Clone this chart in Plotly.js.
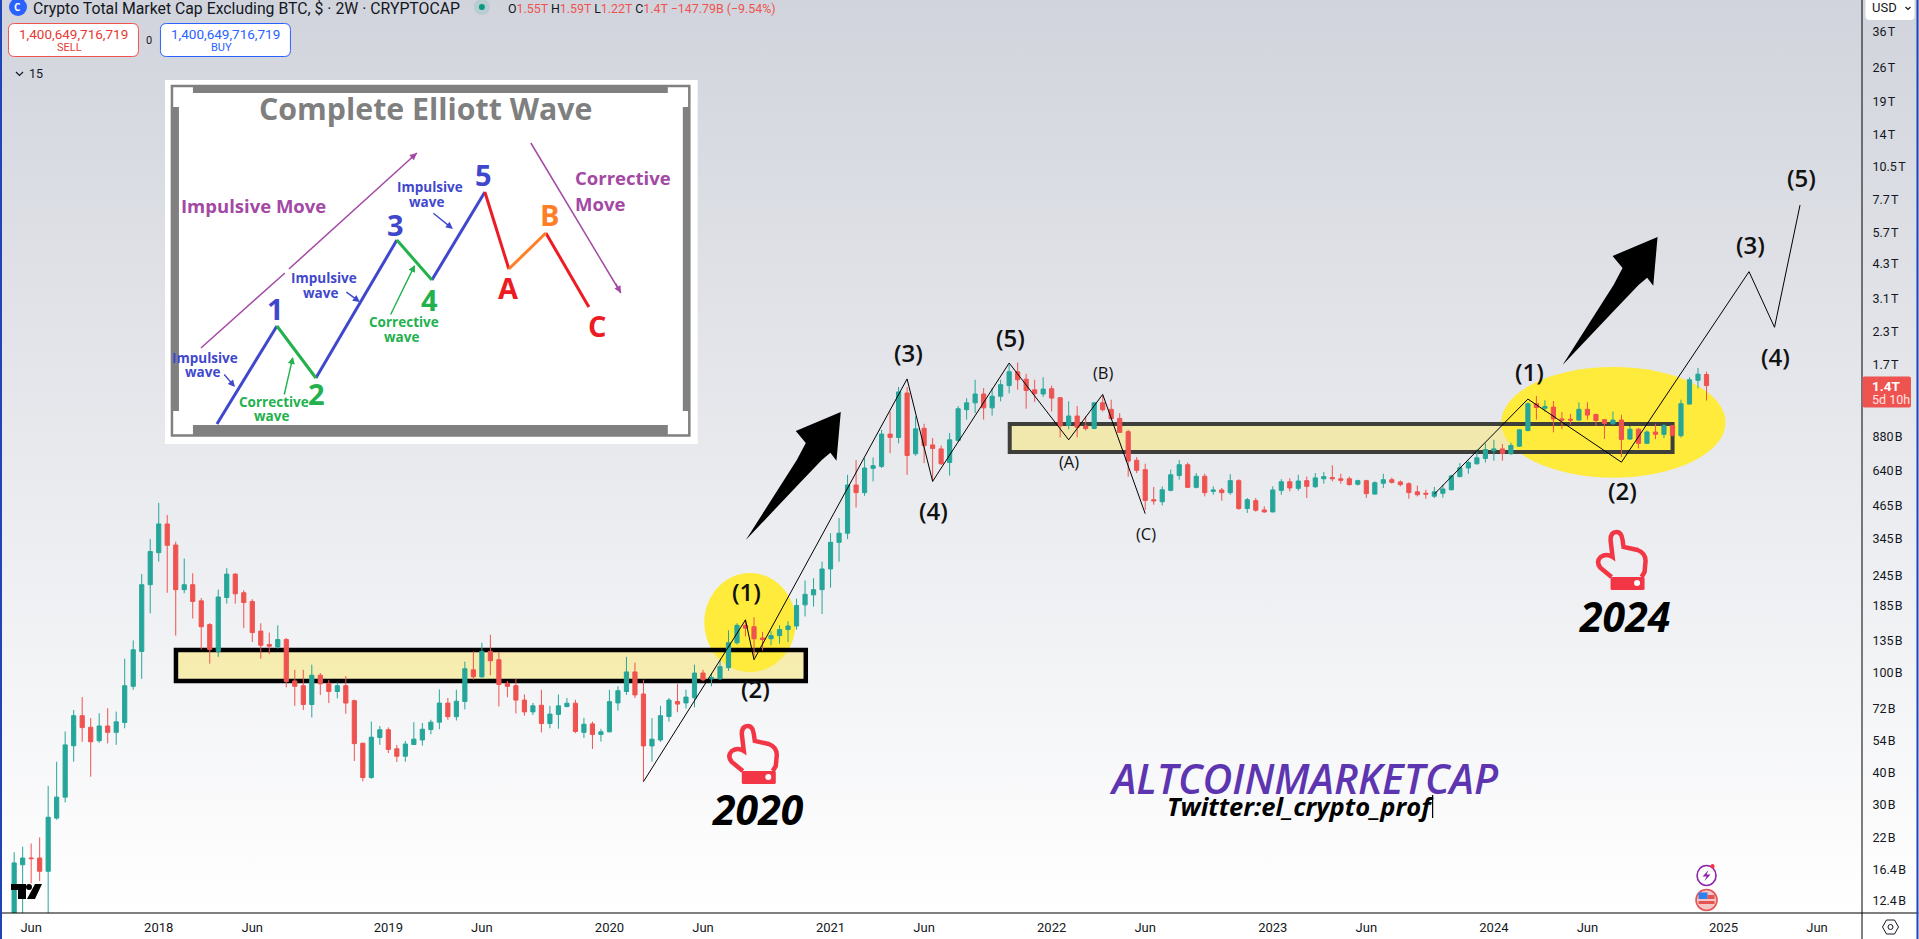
<!DOCTYPE html>
<html><head><meta charset="utf-8">
<script src="https://cdn.plot.ly/plotly-3.0.1.min.js"></script>
<style>html,body{margin:0;padding:0;width:1919px;height:939px;overflow:hidden;background:linear-gradient(#d1d4dc 0,#ffffff 913px)}#c{width:1919px;height:939px}</style>
</head><body><div id="c"></div>
<script>
// ---------- chart data (values in billions of USD) ----------
const firstBar = '2017-05-08', barDays = 14;
const open_ = [9.74,17.2,18.3,18.3,16.2,26.4,32.0,51.3,67.6,60.8,53.7,61.5,58.0,63.5,88.5,122,225,302,393,324,215,225,194,156,122,200,248,209,193,147,130,127,136,93,89,74.9,98,91,84.4,89,77.6,52.5,38.3,55.3,59.4,49.9,46.6,51.9,54.1,59.5,63.7,75.9,67,77,103,96.5,122,113,91,89,78,70,74.4,62.9,68.4,73.5,75.8,58,62.7,56.9,58.3,76,84.4,101,82.5,51.2,54.1,67.1,77,76,79.7,100,94.8,94.8,105,132,155,153,138,137,141,149,154,187,205,215,260,332,361,562,524,655,667,897,870,1308,749,946,812,783,691,846,1122,1195,1296,1141,1270,1400,1590,1485,1347,1296,1360,1252,973,1059,966,944,1195,1126,1036,917,705,647,491,482,535,613,677,550,609,530,537,524,585,453,487,447,439,535,579,545,585,553,595,602,595,595,566,585,517,571,590,578,569,528,521,507,521,538,607,657,683,717,770,783,749,803,927,1185,1137,1149,1031,1028,1020,1126,1074,1024,986,1020,857,938,824,914,895,969,884,1182,1470,1550];
const high_ = [19.3,20.3,20.9,22.1,35.5,44.3,58.5,71.2,80.2,66.1,69.2,72.4,70.2,114,135,248,342,477,427,334,286,250,199,158,215,262,250,214,197,158,145,155,138,103,103,108,100,93.9,91.7,97.2,78.3,52.7,64,61.5,60.7,51.7,53.6,63.7,63.2,65.1,86,79.5,85.8,111,122,132,142,121,93,95,82.2,76,85.7,74,82.2,79.5,78.3,66.3,64,59.9,85.7,88.5,116,110,94,66.1,74,79.5,90.6,85.8,108,103,100,113,148,158,163,167,146,147,155,161,198,234,239,278,361,415,617,707,719,723,933,1103,1382,1382,1055,986,865,807,906,1160,1248,1477,1369,1369,1477,1696,1731,1560,1477,1511,1399,1261,1211,1160,1055,1205,1282,1230,1087,933,726,683,552,555,647,707,691,627,623,555,547,621,593,499,499,462,555,593,598,617,607,627,633,673,623,607,590,590,581,623,602,586,576,559,538,552,564,617,687,703,779,824,851,819,829,938,1200,1274,1223,1215,1097,1081,1200,1200,1081,1028,1103,1071,966,949,927,986,986,976,1230,1511,1645,1590];
const low_ = [8.4,10.3,14.5,14.8,9.74,26.0,30.5,44.3,53.2,38.6,52.7,52.4,51.7,60.2,85.8,94.8,173,278,209,141,208,165,124,109,116,189,189,151,133,114,119,125,87.7,74,71.2,66.5,81.8,75.9,79.2,68.8,44.6,37,37.9,51.7,48,44.2,44.3,51.7,51.3,57,59.7,65.1,64.7,71.6,94,96,98,73.6,80,69,67.6,68,58,60.2,60,73,57.6,55,49.8,53.3,58,70.8,81.8,79.5,36.9,44.3,53.2,64,69.8,72.2,73,92.6,88.5,94,102,130,140,116,123,129,131,133,149,168,184,172,219,278,342,457,509,581,657,753,824,617,735,687,581,675,613,838,1024,1087,1024,1062,1211,1304,1347,1132,1205,1261,1103,870,938,870,927,938,1103,1024,906,607,627,447,469,466,530,590,547,545,506,514,487,514,447,435,440,435,437,514,530,533,499,547,569,581,569,559,559,499,514,547,569,555,495,506,495,499,500,535,604,623,677,691,703,703,742,797,919,1024,1103,911,938,976,1015,1024,966,857,976,726,851,786,819,857,865,878,869,1175,1365,1220];
const close_ = [17.5,18.3,18.2,16.2,26.6,32.0,51.7,67.6,60.6,53.2,61.5,58.0,63.9,89.0,123.8,225,305,393,323,215,225,193,153,124,201,248,207,191,145,129,128,136,92.6,88.5,74.9,98,90.6,84.4,89,75.9,52.3,38.3,55.5,59.4,49.6,46.6,52.1,54.5,59.7,63.7,75.9,67,77.2,104,96.7,122,112,90,88.5,78,70,74,62.9,68.6,74,75.8,58.5,62.5,56.9,58.3,76.9,85,101,81.8,51.2,54.5,67.6,78,75.2,80.2,100,94,96,106,132,155,151,137,136,141,149,154,186,206,215,260,332,361,562,524,657,671,897,870,1321,737,941,807,786,683,851,1132,1195,1296,1141,1270,1412,1590,1477,1339,1300,1356,1248,966,1059,955,944,1195,1122,1033,911,700,643,488,486,538,617,677,550,609,524,537,524,585,453,491,446,439,537,579,547,583,555,600,607,595,587,564,585,519,574,590,576,564,524,514,517,528,542,611,659,691,721,778,783,751,808,933,1185,1145,1156,1031,1020,1020,1126,1068,1017,989,1020,854,938,824,914,895,969,887,1185,1477,1555,1400];

const xTickDates = ['2017-06-05','2018-01-01','2018-06-04','2019-01-14','2019-06-17','2020-01-13','2020-06-15','2021-01-11','2021-06-14','2022-01-10','2022-06-13','2023-01-09','2023-06-12','2024-01-08','2024-06-10','2025-01-20','2025-06-23'];
const xTickLabels = ['Jun','2018','Jun','2019','Jun','2020','Jun','2021','Jun','2022','Jun','2023','Jun','2024','Jun','2025','Jun'];
const yTickValues = [36000,26000,19000,14000,10500,7700,5700,4300,3100,2300,1700,880,640,465,345,245,185,135,100,72,54,40,30,22,16.4,12.4];
const yTickLabels = ['36\u200aT','26\u200aT','19\u200aT','14\u200aT','10.5\u200aT','7.7\u200aT','5.7\u200aT','4.3\u200aT','3.1\u200aT','2.3\u200aT','1.7\u200aT','880\u200aB','640\u200aB','465\u200aB','345\u200aB','245\u200aB','185\u200aB','135\u200aB','100\u200aB','72\u200aB','54\u200aB','40\u200aB','30\u200aB','22\u200aB','16.4\u200aB','12.4\u200aB'];

// Elliott wave counts drawn on the chart
const waveADates = ['2020-03-09','2020-08-24','2020-09-07','2021-05-17','2021-06-28','2021-11-01','2022-02-07','2022-04-04','2022-06-13'];
const waveAValues = [36.9,163,113,1488,581,1722,851,1291,432];
const waveBDates = ['2023-10-02','2024-03-04','2024-08-05','2025-03-03','2025-04-14','2025-05-26'];
const waveBValues = [517,1237,693,3985,2391,7347];

// Inset diagram: Complete Elliott Wave (schematic units)
const insetImpX = [[217,277],[316,397],[432,485]], insetImpY = [[424,326],[378,240],[280,192]];
const insetCorX = [[277,316],[397,432]], insetCorY = [[326,378],[240,280]];
const insetRedX = [[485,509],[546,589]], insetRedY = [[192,269],[233,307]];
const insetOrangeX = [509,546], insetOrangeY = [269,233];
const insetTrendX = [201,285,null,289,417,null,531,621], insetTrendY = [348,273,null,269,153,null,143,293];

// ---------- helpers ----------
const W = 1919, H = 939, L = 2, PW = 1860.5, PH = 913;
const px = x => (x - L) / PW, py = y => 1 - y / PH;
const barDates = open_.map((_, i) => {
  const d = new Date(firstBar + 'T00:00:00Z'); d.setUTCDate(d.getUTCDate() + i * barDays);
  return d.toISOString().slice(0, 10);
});
const path = pts => pts.map((p, i) => (i ? 'L' : 'M') + px(p[0]) + ' ' + py(p[1])).join(' ') + ' Z';
const shapes = [], annotations = [];
function txt(x, y, text, size, color, o) {
  annotations.push(Object.assign({xref:'paper', yref:'paper', x:px(x), y:py(y), text, showarrow:false,
    xanchor:'center', yanchor:'middle', font:{family:'"Open Sans"', size, color}}, o || {}));
}
function itxt(x, y, text, size, color, o) {
  annotations.push(Object.assign({xref:'x2', yref:'y2', x, y, text, showarrow:false, xanchor:'center', yanchor:'middle',
    font:{family:'"Open Sans"', size, color, weight:700}}, o || {}));
}
function rectP(x0, y0, x1, y1, fill, line, lw, layer, extra) {
  shapes.push(Object.assign({type:'rect', xref:'paper', yref:'paper', x0:px(x0), x1:px(x1), y0:py(y0), y1:py(y1),
    fillcolor:fill, line:{color:line || 'rgba(0,0,0,0)', width:lw || 0}, layer:layer || 'above'}, extra || {}));
}
function ellipse(x0, y0, x1, y1, fill, line, lw, layer) {
  shapes.push({type:'circle', xref:'paper', yref:'paper', x0:px(x0), x1:px(x1), y0:py(y0), y1:py(y1),
    fillcolor:fill, line:{color:line || 'rgba(0,0,0,0)', width:lw || 0}, layer:layer || 'above'});
}
function poly(pts, fill, line, lw, layer) {
  shapes.push({type:'path', xref:'paper', yref:'paper', path:path(pts), fillcolor:fill,
    line:{color:line || 'rgba(0,0,0,0)', width:lw || 0}, layer:layer || 'above'});
}
function roundBox(x0, y0, x1, y1, r, fill, line, lw) {
  const c = (x, y) => px(x) + ' ' + py(y);
  shapes.push({type:'path', xref:'paper', yref:'paper', fillcolor:fill, line:{color:line, width:lw}, layer:'above',
    path:`M${c(x0+r,y0)} L${c(x1-r,y0)} Q${c(x1,y0)} ${c(x1,y0+r)} L${c(x1,y1-r)} Q${c(x1,y1)} ${c(x1-r,y1)} L${c(x0+r,y1)} Q${c(x0,y1)} ${c(x0,y1-r)} L${c(x0,y0+r)} Q${c(x0,y0)} ${c(x0+r,y0)} Z`});
}

// ---------- zones below the candles ----------
rectP(176,650,806,681,'rgba(248,232,130,0.6)',null,0,'below');
rectP(1010,424,1673,452,'rgba(248,232,130,0.6)',null,0,'below');
ellipse(704.5,573,796,672,'#ffeb3b',null,0,'below');
ellipse(1501.7,367,1726,477.7,'#ffeb3b',null,0,'below');
rectP(176,650,806,681,'rgba(0,0,0,0)','#000000',4.5,'below');
rectP(1010,424,1673,452,'rgba(0,0,0,0)','#3e3e3a',4,'below');

// ---------- big arrows ----------
function bigArrow(dx, dy) {
  poly([[746,540],[797,460],[806,443],[796,431],[841,412],[836.7,460.7],[830.6,452.7],[822,460],[800,483]]
    .map(p => [p[0]+dx, p[1]+dy]), '#000000');
}
bigArrow(0,0); bigArrow(817,-175);

// ---------- hands ----------
function hand(ox, oy) {
  const c = (x, y) => px(ox+x) + ' ' + py(oy+y);
  shapes.push({type:'path', xref:'paper', yref:'paper', layer:'above', fillcolor:'rgba(0,0,0,0)', line:{color:'#f23645', width:4.5},
    path:`M${c(16,47)} L${c(5,38)} Q${c(0,32)} ${c(5,27)} Q${c(11,23)} ${c(17,27)} L${c(15,10)} Q${c(15,2)} ${c(21,2)} Q${c(26,2)} ${c(27,10)} L${c(28,17)} L${c(42,20)} Q${c(50,23)} ${c(50,31)} L${c(49,42)} L${c(46,47)}`});
  roundBox(ox+15, oy+47, ox+49, oy+60, 1.5, '#f23645', '#f23645', 0);
  ellipse(ox+38.5, oy+50, ox+44.5, oy+56, '#ffffff');
}
hand(727,724); hand(1596,530);

// ---------- wave labels ----------
[[747,591.7,'(1)',24,600],[755.5,688,'(2)',24,600],[908.6,352.7,'(3)',24,600],[934,510.7,'(4)',24,600],[1010.6,337.7,'(5)',24,600],
 [1069.4,462,'(A)',16.5,400],[1103.7,373,'(B)',16.5,400],[1146.5,533,'(C)',16.5,400],
 [1529.7,371,'(1)',24,600],[1622.7,491,'(2)',24,600],[1750.7,244.3,'(3)',24,600],[1776,356.7,'(4)',24,600],[1801.7,177.3,'(5)',24,600]]
 .forEach(a => txt(a[0],a[1],a[2],a[3],'#111111',{font:{family:'"Open Sans"',size:a[3],color:'#111111',weight:a[4]}}));
txt(758.5,809,'2020',41,'#000',{font:{family:'"Noto Sans"',size:41,color:'#000',weight:700,style:'italic'}});
txt(1625.5,616,'2024',41,'#000',{font:{family:'"Noto Sans"',size:41,color:'#000',weight:700,style:'italic'}});
txt(1304.5,778,'ALTCOINMARKETCAP',41,'#5e35b1',{font:{family:'"Open Sans"',size:41,color:'#5e35b1',weight:600,style:'italic'}});
txt(1301,806,'Twitter:el_crypto_prof',25.5,'#000',{font:{family:'"Open Sans"',size:25.5,color:'#000',weight:700,style:'italic'}});
shapes.push({type:'line',xref:'paper',yref:'paper',x0:px(1433),x1:px(1433),y0:py(795),y1:py(818),line:{color:'#000',width:1.2},layer:'above'});

// ---------- header ----------
ellipse(9,-2,27,16,'#2962ff');
txt(18,7,'<b>C</b>',10,'#fff');
txt(31,8,'Crypto Total Market Cap Excluding BTC, $ · 2W · CRYPTOCAP',15.8,'#131722',{xanchor:'left',font:{family:'Roboto',size:15.8,color:'#131722'}});
ellipse(474,-1,490,15,'rgba(38,166,154,0.15)');
ellipse(479,4,485,10,'#089981');
const R = s => `<span style="color:#ef5350">${s}</span>`;
txt(506,8,'O'+R('1.55T')+' H'+R('1.59T')+' L'+R('1.22T')+' C'+R('1.4T')+' '+R('−147.79B (−9.54%)'),12.4,'#131722',{xanchor:'left',font:{family:'Roboto',size:12.4,color:'#131722'}});
roundBox(8.5,23.5,138.5,56.5,6,'#ffffff','#ef5350',1);
roundBox(160.5,23.5,290.5,56.5,6,'#ffffff','#2962ff',1);
txt(73.5,33.5,'1,400,649,716,719',13.5,'#ef5350',{font:{family:'Roboto',size:13.5,color:'#e53935'}});
txt(69.5,48,'SELL',11,'#ef5350',{font:{family:'Roboto',size:11,color:'#e53935'}});
txt(226,33.5,'1,400,649,716,719',13.5,'#2962ff',{font:{family:'Roboto',size:13.5,color:'#2962ff'}});
txt(222,48,'BUY',11,'#2962ff',{font:{family:'Roboto',size:11,color:'#2962ff'}});
txt(149.5,40,'0',11,'#131722',{font:{family:'Roboto',size:11,color:'#131722'}});
txt(36,73.5,'15',12.5,'#131722',{font:{family:'Roboto',size:12.5,color:'#131722'}});
shapes.push({type:'path',xref:'paper',yref:'paper',layer:'above',path:`M${px(16)} ${py(72)} L${px(19.5)} ${py(75.5)} L${px(23)} ${py(72)}`,fillcolor:'rgba(0,0,0,0)',line:{color:'#131722',width:1.2}});

// ---------- price scale furniture ----------
shapes.push({type:'line',xref:'paper',yref:'paper',x0:px(0),x1:px(1919),y0:py(913),y1:py(913),line:{color:'#000',width:1},layer:'above'});
shapes.push({type:'line',xref:'paper',yref:'paper',x0:px(1862.5),x1:px(1862.5),y0:py(0),y1:py(939),line:{color:'#000',width:1},layer:'above'});
rectP(0,0,2,939,'#1e44b8'); rectP(1917,0,1919,939,'#1e44b8');
roundBox(1866,-6,1915,20,4,'#ffffff','#ffffff',0);
txt(1871,7.5,'USD',13,'#131722',{xanchor:'left',font:{family:'Roboto',size:13,color:'#131722'}});
shapes.push({type:'path',xref:'paper',yref:'paper',layer:'above',path:`M${px(1906)} ${py(7)} L${px(1908.5)} ${py(9.5)} L${px(1911)} ${py(7)}`,fillcolor:'rgba(0,0,0,0)',line:{color:'#131722',width:1.2}});
roundBox(1863,376.5,1911.5,407.5,2,'#ef5350','#ef5350',0);
txt(1871,386,'<b>1.4T</b>',13.5,'#fff',{xanchor:'left',font:{family:'Roboto',size:13.5,color:'#fff'}});
txt(1871,399.5,'5d 10h',12.5,'#fff',{xanchor:'left',font:{family:'Roboto',size:12.5,color:'#ffe3e3'}});
poly([[1883,927],[1887,920],[1895,920],[1899,927],[1895,934],[1887,934]],'rgba(0,0,0,0)','#131722',1);
ellipse(1888.5,924.5,1893.5,929.5,'rgba(0,0,0,0)','#131722',1);
// event icons
ellipse(1697.5,865.5,1716.5,885.5,'rgba(255,255,255,0.6)','#8e24aa',1.6);
poly([[1709,870],[1703,876.5],[1707,876.5],[1705,881],[1711,874.5],[1707,874.5]],'#8e24aa');
ellipse(1711,864,1715,868.5,'#f23645');
ellipse(1696.5,889.5,1717.5,910.5,'#f5c6c6','#e55353',1.6);
rectP(1699,892.5,1708,899,'#2f80ed'); rectP(1708,895,1715,899,'#e55353'); rectP(1699,901,1715,904,'#e55353');
// TradingView mark
poly([[11,884],[26,884],[26,899],[18,899],[18,890],[11,890]],'#000000');
ellipse(26,884,32,890,'#000000');
poly([[35,884],[42,884],[35,899],[27,899]],'#000000');

// ---------- inset frame ----------
const G = '#808080';
const iRect = (x0,y0,x1,y1,fill,lc,lw,layer) => shapes.push({type:'rect',xref:'x2',yref:'y2',x0,x1,y0,y1,fillcolor:fill,line:{color:lc||'rgba(0,0,0,0)',width:lw||0},layer:layer||'below'});
iRect(165,80,698,444,'#ffffff');
iRect(172,86,689.5,435.5,'rgba(0,0,0,0)',G,2.5);
iRect(193,85,668,93,G); iRect(193,425,668,436,G); iRect(171,107,179,411,G); iRect(683,107,690,411,G);

// ---------- inset text ----------
const BL = '#3f48cc', GR = '#22b14c', RD = '#ed1c24', OR = '#ff7f27', PU = '#a349a4';
itxt(426,108,'Complete Elliott Wave',30.3,'#7f7f7f');
itxt(253.4,205.7,'Impulsive Move',18.5,PU);
itxt(573,177,'Corrective',18.5,PU,{xanchor:'left'}); itxt(573,203,'Move',18.5,PU,{xanchor:'left'});
[[205,358],[324,278],[430,187]].forEach(p=>itxt(p[0],p[1],'Impulsive',13.5,BL));
[[203,372],[321,293],[427,202]].forEach(p=>itxt(p[0],p[1],'wave',13.5,BL));
[[274,402],[404,322]].forEach(p=>itxt(p[0],p[1],'Corrective',13.5,GR));
[[272,416],[402,337]].forEach(p=>itxt(p[0],p[1],'wave',13.5,GR));
itxt(275.5,308,'1',29,BL); itxt(317,393,'2',29,GR); itxt(396,224,'3',29,BL); itxt(430,299,'4',29,GR); itxt(483.5,174,'5',29,BL);
itxt(509,287,'A',29,RD); itxt(549.6,214,'B',29,OR); itxt(597,325,'C',29,RD);
function iArrow(x0,y0,x1,y1,c){annotations.push({xref:'x2',yref:'y2',axref:'x2',ayref:'y2',x:x1,y:y1,ax:x0,ay:y0,text:'',showarrow:true,arrowhead:2,arrowsize:1,arrowwidth:1.4,arrowcolor:c});}
iArrow(223,373,235,387,BL); iArrow(345,291,360,302,BL); iArrow(432,212,453,229,BL);
iArrow(284,396,293,357,GR); iArrow(390,316,415,265,GR);
iArrow(409,160,417,153,PU); iArrow(615,282,621,293,PU);

// ---------- traces ----------
const seg = (xs, ys, color, width) => ({type:'scatter', mode:'lines', x:xs, y:ys, xaxis:'x2', yaxis:'y2',
  line:{color, width}, hoverinfo:'skip', showlegend:false, connectgaps:false});
const traces = [
  {type:'candlestick', x:barDates, open:open_, high:high_, low:low_, close:close_, whiskerwidth:0,
   width:barDays*86400000*1.2,
   increasing:{line:{color:'#26a69a',width:1}, fillcolor:'#26a69a'},
   decreasing:{line:{color:'#ef5350',width:1}, fillcolor:'#ef5350'}, showlegend:false, hoverinfo:'skip'},
  {type:'scatter', mode:'lines', x:waveADates, y:waveAValues, line:{color:'#000',width:1}, showlegend:false, hoverinfo:'skip'},
  {type:'scatter', mode:'lines', x:waveBDates, y:waveBValues, line:{color:'#000',width:1}, showlegend:false, hoverinfo:'skip'}
];
insetImpX.forEach((x,i)=>traces.push(seg(x,insetImpY[i],BL,3)));
insetCorX.forEach((x,i)=>traces.push(seg(x,insetCorY[i],GR,3)));
insetRedX.forEach((x,i)=>traces.push(seg(x,insetRedY[i],RD,3)));
traces.push(seg(insetOrangeX,insetOrangeY,OR,3));
traces.push(seg(insetTrendX,insetTrendY,PU,1.5));

const layout = {
  width:W, height:H, margin:{l:L, r:W-L-PW, t:0, b:H-PH, pad:0},
  paper_bgcolor:'rgba(0,0,0,0)', plot_bgcolor:'rgba(0,0,0,0)', showlegend:false, hovermode:false,
  xaxis:{type:'date', range:['2017-04-18','2025-09-05'], tickmode:'array', tickvals:xTickDates, ticktext:xTickLabels,
    showgrid:false, zeroline:false, showline:false, ticks:'outside', ticklen:2, tickcolor:'rgba(0,0,0,0)',
    tickfont:{family:'Roboto', size:13, color:'#131722'}, rangeslider:{visible:false}, tickangle:0, fixedrange:true},
  yaxis:{type:'log', side:'right', range:[1.0432,4.6836], tickmode:'array', tickvals:yTickValues, ticktext:yTickLabels,
    showgrid:false, zeroline:false, showline:false, ticks:'outside', ticklen:7, tickcolor:'rgba(0,0,0,0)',
    tickfont:{family:'Roboto', size:12.5, color:'#131722'}, fixedrange:true},
  xaxis2:{domain:[px(165),px(698)], anchor:'y2', range:[165,698], visible:false, fixedrange:true},
  yaxis2:{domain:[py(444),py(80)], anchor:'x2', range:[444,80], visible:false, fixedrange:true},
  shapes, annotations
};
Plotly.newPlot('c', traces, layout, {displayModeBar:false, staticPlot:true, responsive:false});
</script></body></html>
